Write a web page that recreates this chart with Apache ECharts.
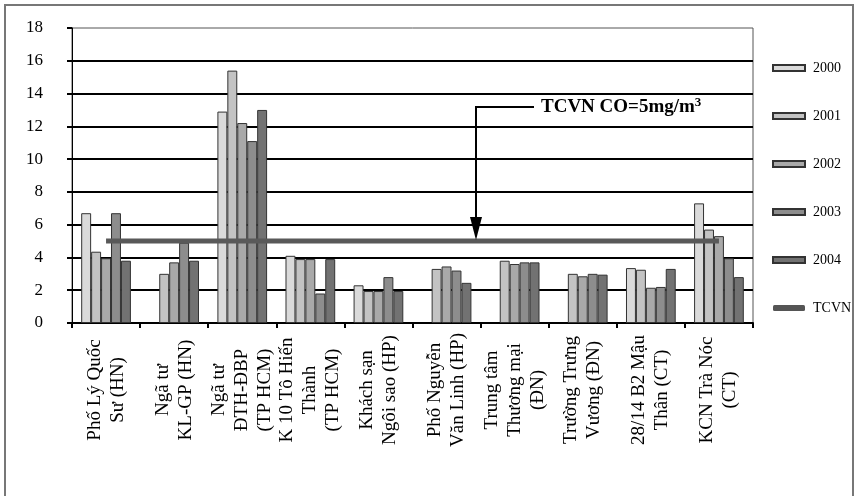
<!DOCTYPE html>
<html>
<head>
<meta charset="utf-8">
<script src="https://cdn.jsdelivr.net/npm/echarts@6/dist/echarts.min.js"></script>
<style>html,body{margin:0;padding:0;background:#fff}#c{width:860px;height:496px}</style>
</head>
<body>
<div id="c"></div>
<script>
const categories = ['Phố Lý Quốc\nSư (HN)', 'Ngã tư\nKL-GP (HN)', 'Ngã tư\nĐTH-ĐBP\n(TP HCM)', 'K 10 Tô Hiến\nThành\n(TP HCM)', 'Khách sạn\nNgôi sao (HP)', 'Phố Nguyễn\nVăn Linh (HP)', 'Trung tâm\nThương mại\n(ĐN)', 'Trường Trưng\nVương (ĐN)', '28/14 B2 Mậu\nThân (CT)', 'KCN Trà Nóc\n(CT)'];
const s2000 = [6.7, null, 12.9, 4.1, 2.3, null, null, null, 3.35, 7.3];
const s2001 = [4.35, 3.0, 15.4, 3.9, 1.95, 3.3, 3.8, 3.0, 3.25, 5.7];
const s2002 = [3.95, 3.7, 12.2, 3.9, 1.95, 3.45, 3.6, 2.85, 2.15, 5.3];
const s2003 = [6.7, 4.9, 11.1, 1.8, 2.8, 3.2, 3.7, 3.0, 2.2, 3.95];
const s2004 = [3.8, 3.8, 13.0, 3.9, 1.95, 2.45, 3.7, 2.95, 3.3, 2.8];
const tcvn = [5, 5, 5, 5, 5, 5, 5, 5, 5, 5];
const yTicks = [0, 2, 4, 6, 8, 10, 12, 14, 16, 18];
const annotation = 'TCVN CO=5mg/m';

const FONT = "'Liberation Serif', 'Times New Roman', serif";
const barColors = ['#dadada', '#c3c3c3', '#a9a9a9', '#8d8d8d', '#727272'];
const years = ['2000', '2001', '2002', '2003', '2004'];
const seriesData = [s2000, s2001, s2002, s2003, s2004];

const chart = echarts.init(document.getElementById('c'), null, {renderer: 'canvas'});

const barSeries = years.map((y, i) => ({
  name: y, type: 'bar', data: seriesData[i],
  barGap: 0, barCategoryGap: '27%',
  itemStyle: {color: barColors[i], borderColor: '#333', borderWidth: 1},
  z: 2
}));

chart.setOption({
  animation: false,
  backgroundColor: '#fff',
  grid: {left: 72, right: 107, top: 28, bottom: 173, show: true, borderColor: '#555', borderWidth: 1, backgroundColor: 'transparent'},
  legend: {
    orient: 'vertical', left: 772, top: 61, padding: 0, itemWidth: 32, itemHeight: 6, itemGap: 34,
    textStyle: {fontFamily: FONT, fontSize: 14, color: '#000', padding: [0, 0, 0, 3]},
    data: years.map(y => ({name: y, icon: 'rect'})).concat([{name: 'TCVN', icon: 'roundRect', itemStyle: {color: '#555', borderWidth: 0}}])
  },
  xAxis: {
    type: 'category', data: categories, boundaryGap: true,
    axisLine: {lineStyle: {color: '#000', width: 2}},
    axisTick: {show: true, length: 5, inside: false, lineStyle: {color: '#000', width: 2}},
    axisLabel: {
      interval: 0, rotate: 90, margin: 67, align: 'center', verticalAlign: 'middle',
      fontSize: 19, lineHeight: 23, fontFamily: FONT, color: '#000'
    }
  },
  yAxis: {
    type: 'value', min: yTicks[0], max: yTicks[yTicks.length - 1], interval: 2,
    axisLine: {show: true, lineStyle: {color: '#000', width: 1}},
    axisTick: {show: true, length: 5, lineStyle: {color: '#000', width: 2}},
    axisLabel: {fontFamily: FONT, fontSize: 17, color: '#000', margin: 29},
    splitLine: {show: true, showMaxLine: false, lineStyle: {color: '#000', width: 2}}
  },
  series: barSeries.concat([{
    name: 'TCVN', type: 'line', data: tcvn, symbol: 'none', z: 5,
    lineStyle: {color: '#595959', width: 5, cap: 'butt'},
    itemStyle: {color: '#595959'}
  }]),
  graphic: [
    {type: 'rect', shape: {x: 5, y: 5, width: 848, height: 520}, style: {fill: 'none', stroke: '#777', lineWidth: 2}, z: 100, silent: true},
    {type: 'polyline', shape: {points: [[534, 107], [476, 107], [476, 220]]}, style: {stroke: '#000', lineWidth: 2, fill: 'none'}, z: 100},
    {type: 'polygon', shape: {points: [[470, 217], [482, 217], [476, 240]]}, style: {fill: '#000'}, z: 100},
    {type: 'text', z: 100, style: {
      x: 541, y: 107, text: '{a|' + annotation + '}{s|3}', verticalAlign: 'middle', align: 'left',
      rich: {
        a: {fontFamily: FONT, fontWeight: 'bold', fontSize: 19, lineHeight: 22, color: '#000'},
        s: {fontFamily: FONT, fontWeight: 'bold', fontSize: 13, lineHeight: 12, verticalAlign: 'top', color: '#000'}
      }
    }}
  ]
});
</script>
</body>
</html>
